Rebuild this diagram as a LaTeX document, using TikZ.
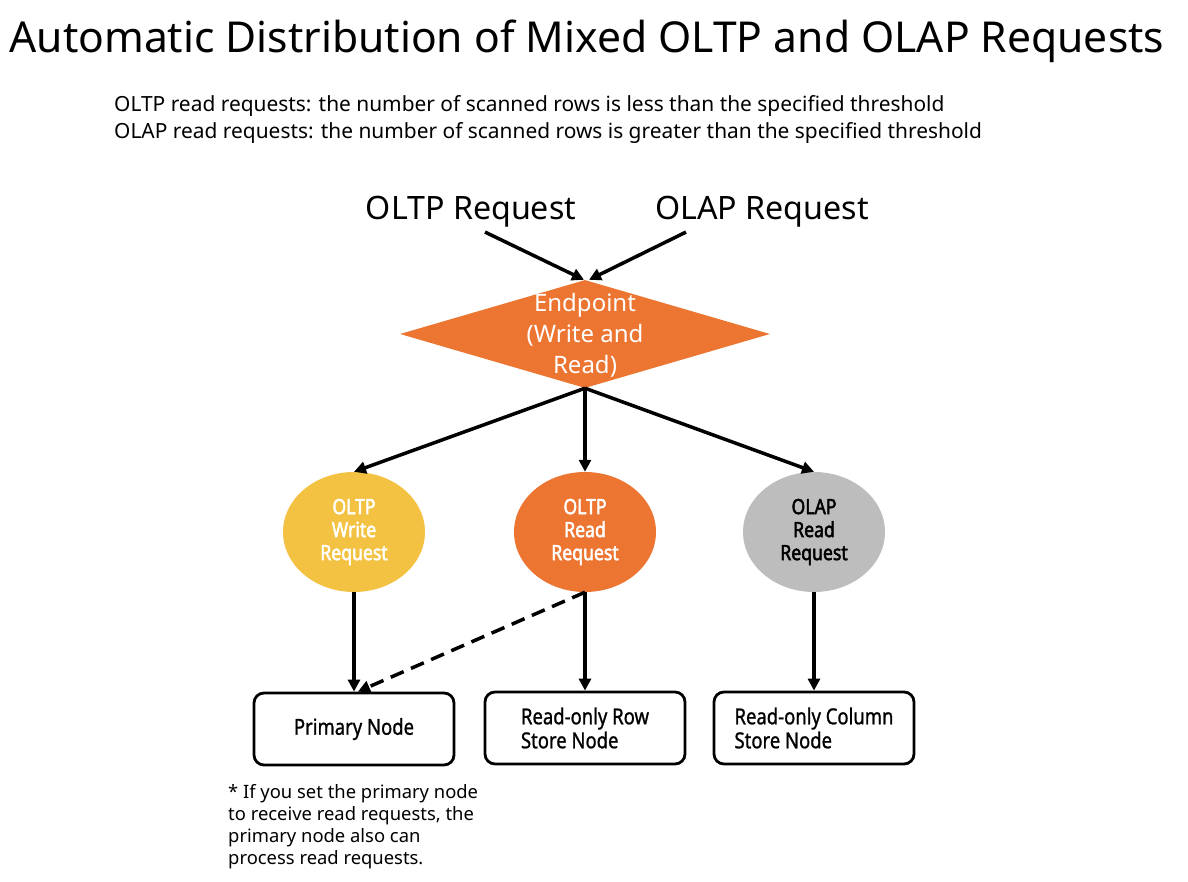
\documentclass[tikz,border=0pt]{standalone}
\usepackage{fontspec}
\setmainfont{Noto Sans}
\newfontfamily\condbold[FakeStretch=0.84, FakeBold=2.2]{Noto Sans}
\newfontfamily\condmed[FakeStretch=0.84, FakeBold=1]{Noto Sans}
\usepackage{xcolor}
\usetikzlibrary{arrows.meta, shapes.geometric}

\definecolor{epOrange}{HTML}{ED7532}
\definecolor{wrYellow}{HTML}{F4C242}
\definecolor{apGray}{HTML}{BDBDBD}

\begin{document}
\begin{tikzpicture}[x=1pt, y=-1pt,
  arrow/.style={line width=3.5pt, -{Triangle[length=12pt, width=12pt]}},
  reqball/.style={ellipse, minimum width=142pt, minimum height=120pt, inner sep=0pt,
    align=center, font=\condbold\fontsize{21}{23}\selectfont},
  storebox/.style={draw, line width=2.8pt, rounded corners=10pt, minimum width=200pt,
    minimum height=72pt, align=left, font=\condmed\fontsize{22}{24}\selectfont}]
  % page frame, 1188 x 882 px
  \useasboundingbox (0,0) rectangle (1188,882);
  % title and notes
  \node[anchor=west, font=\fontsize{42.6}{50}\selectfont] (title) at (6,41)
    {Automatic Distribution of Mixed OLTP and OLAP Requests};
  \node[anchor=north west, align=left, inner sep=0pt, font=\fontsize{20.9}{27}\selectfont] (notes) at (114,95)
    {OLTP read requests: the number of scanned rows is less than the specified threshold\\
     OLAP read requests: the number of scanned rows is greater than the specified threshold};
  % incoming requests
  \node[font=\fontsize{32.2}{36}\selectfont] (oltpin) at (471,212) {OLTP Request};
  \node[font=\fontsize{32.2}{36}\selectfont] (olapin) at (762,212) {OLAP Request};
  % endpoint diamond
  \node[diamond, fill=epOrange, minimum width=370pt, minimum height=108pt, inner sep=0pt] (endpoint) at (585,334) {};
  \node[align=center, text=white, font=\fontsize{24}{31}\selectfont] (eptext) at (585,335)
    {Endpoint\\(Write and\\Read)};
  % request types
  \node[reqball, fill=wrYellow, text=white] (wrreq) at (354,532) {OLTP\\Write\\Request};
  \node[reqball, fill=epOrange, text=white] (rdreq) at (585,532) {OLTP\\Read\\Request};
  \node[reqball, fill=apGray, text=black] (apreq) at (814,532) {OLAP\\Read\\Request};
  % store nodes
  \node[storebox] (primary) at (354,729) {Primary Node};
  \node[storebox] (rowstore) at (585,728) {Read-only Row\\Store Node};
  \node[storebox] (colstore) at (814,728) {Read-only Column\\Store Node};
  % footnote
  \node[anchor=north west, align=left, inner sep=0pt, font=\fontsize{18.4}{22}\selectfont] (footnote) at (228,784)
    {* If you set the primary node\\to receive read requests, the\\primary node also can\\process read requests.};
  % connectors
  \draw[arrow] ([xshift=14pt, yshift=-1pt]oltpin.south) -- ([xshift=-1pt]endpoint.north);
  \draw[arrow] ([xshift=-76pt, yshift=-1pt]olapin.south) -- ([xshift=4pt]endpoint.north);
  \draw[arrow] (endpoint.south) -- (wrreq.north);
  \draw[arrow] (endpoint.south) -- (rdreq.north);
  \draw[arrow] (endpoint.south) -- (apreq.north);
  \draw[arrow] (wrreq.south) -- (primary.north);
  \draw[arrow] (rdreq.south) -- (rowstore.north);
  \draw[arrow] (apreq.south) -- (colstore.north);
  \draw[arrow, dashed, dash pattern=on 14pt off 8pt] (rdreq.south) -- ([xshift=4pt]primary.north);
\end{tikzpicture}
\end{document}
